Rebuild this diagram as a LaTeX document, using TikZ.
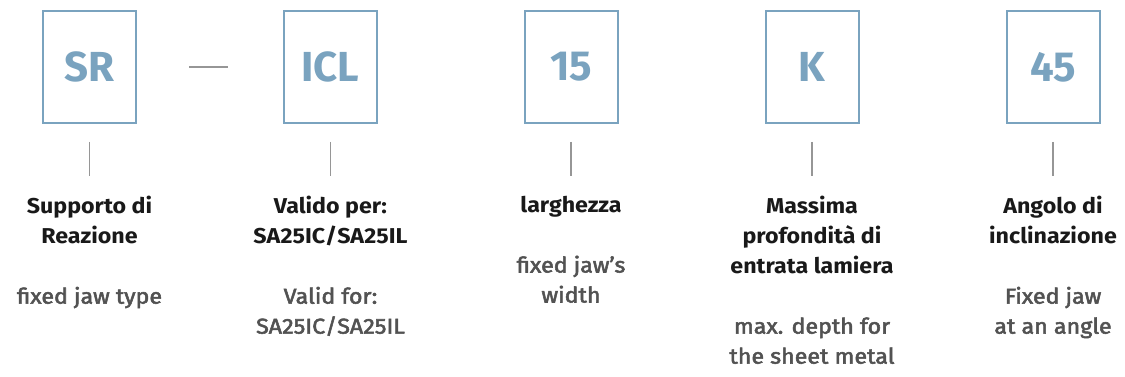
\documentclass[tikz,border=0pt]{standalone}
\usepackage{fontspec}
\setmainfont{Fira Sans}[FakeStretch=1.08]
\newfontfamily\codefont{Fira Sans}
\newfontfamily\descfont{Fira Sans}[FakeStretch=1.08,FakeBold=2.5]
\usetikzlibrary{positioning}

\definecolor{codeblue}{RGB}{122,163,191}
\definecolor{descgray}{RGB}{82,82,82}
\definecolor{rulegray}{RGB}{150,150,150}

\begin{document}
\begin{tikzpicture}[
		x=1pt,
		y=-1pt,
		code/.style={draw=codeblue,line width=2pt,minimum width=93pt,minimum height=112pt,inner sep=0pt,text=codeblue,font=\fontsize{42}{42}\selectfont\codefont\bfseries},
		keytext/.style={anchor=north,align=center,inner sep=0pt,text=black!90,font=\fontsize{21.5}{30}\selectfont},
		tick/.style={draw=rulegray,line width=1.6pt,shorten <=18pt,shorten >=20pt},
		joint/.style={draw=rulegray,line width=1.6pt,shorten <=52pt,shorten >=55pt}
		]
		
		\useasboundingbox (0,0) rectangle (1125,377);
		
		% =====================================================
		% Code boxes
		% =====================================================
		\node[code] (sr) at (89.5,67) {SR};
		\node[code] (icl) at (330.5,67) {ICL};
		\node[code] (width) at (571,67) {15};
		\node[code] (depth) at (812,67) {K};
		\node[code] (angle) at (1053,67) {45};
		
		% =====================================================
		% Descriptions
		% =====================================================
		\node[keytext] (srtext) at (89.5,196)
		{\textbf{Supporto di}\\\textbf{Reazione}\\[30pt]
			\textcolor{descgray}{\descfont fixed jaw type}};
		
		\node[keytext] (icltext) at (330.5,196)
		{\textbf{Valido per:}\\\textbf{SA25IC/SA25IL}\\[30pt]
			\textcolor{descgray}{\descfont Valid for:}\\\textcolor{descgray}{\descfont SA25IC/SA25IL}};
		
		\node[keytext] (widthtext) at (571,196)
		{\textbf{larghezza}\\[30pt]
			\textcolor{descgray}{\descfont fixed jaw’s}\\\textcolor{descgray}{\descfont width}};
		
		\node[keytext] (depthtext) at (812,196)
		{\textbf{Massima}\\\textbf{profondità di}\\\textbf{entrata lamiera}\\[30pt]
			\textcolor{descgray}{\descfont max. depth for}\\\textcolor{descgray}{\descfont the sheet metal}};
		
		\node[keytext] (angletext) at (1053,196)
		{\textbf{Angolo di}\\\textbf{inclinazione}\\[30pt]
			\textcolor{descgray}{\descfont Fixed jaw}\\\textcolor{descgray}{\descfont at an angle}};
		
		% =====================================================
		% Rules
		% =====================================================
		\draw[joint] (sr) -- (icl);
		
		\draw[tick] (sr) -- (srtext);
		\draw[tick] (icl) -- (icltext);
		\draw[tick] (width) -- (widthtext);
		\draw[tick] (depth) -- (depthtext);
		\draw[tick] (angle) -- (angletext);
		
	\end{tikzpicture}
\end{document}
